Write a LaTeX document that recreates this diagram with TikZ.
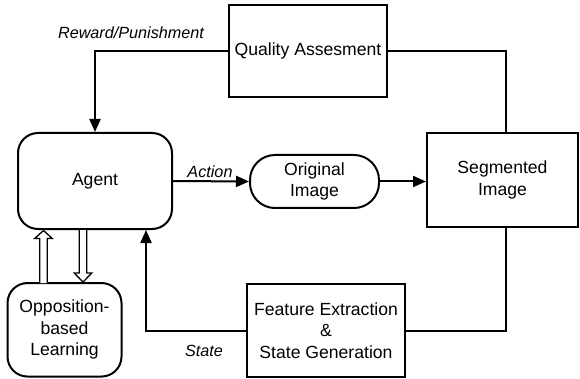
\documentclass[tikz,border=0pt]{standalone}
\usepackage{fontspec}
\setmainfont{Liberation Sans}
\usetikzlibrary{arrows.meta,calc}
\begin{document}
\begin{tikzpicture}[x=1pt,y=-1pt,
  box/.style={draw,line width=2pt,rectangle,align=center,inner sep=0pt,font=\fontsize{17.6}{21.5}\selectfont},
  rbox/.style={box,rounded corners=20pt},
  pill/.style={box,rounded corners=25pt},
  lab/.style={font=\fontsize{16.2}{18}\selectfont\itshape,inner sep=0pt},
  conn/.style={line width=2pt},
  arr/.style={conn,-{Triangle[length=13pt,width=11pt]}},
  hollow/.style={draw,line width=1.3pt,fill=white,line join=miter}
]
\useasboundingbox (0,0) rectangle (580,379);
\node[rbox,minimum width=154pt,minimum height=96pt] (agent) at (95,181) {Agent};
\node[box,minimum width=158pt,minimum height=92pt] (qa) at (308,51) {Quality Assesment};
\node[pill,minimum width=129pt,minimum height=53pt] (orig) at (314.5,181.5) {Original\\Image};
\node[box,minimum width=151pt,minimum height=94pt] (seg) at (502.5,180) {Segmented\\Image};
\node[box,minimum width=158pt,minimum height=93pt] (feat) at (326,330.5) {Feature Extraction\\\&\\State Generation};
\node[rbox,minimum width=114pt,minimum height=93.5pt] (obl) at (64.5,329.8) {Opposition-\\based\\Learning};

\draw[arr] (qa.west) -| (agent.north);
\node[lab] (lreward) at (131,33) {Reward/Punishment};
\draw[arr] (agent.east) -- (orig.west);
\node[lab] (laction) at (210,172) {Action};
\draw[arr] (orig.east) -- (orig.east -| seg.west);
\draw[conn] (qa.east) -| ([xshift=3.5pt]seg.north);
\draw[conn] ([xshift=3.5pt]seg.south) |- (feat.east);
\draw[arr] (feat.west) -| ([xshift=51pt]agent.south);
\node[lab] (lstate) at (204,351) {State};

% hollow arrows between Agent and Opposition-based Learning
\coordinate (upb) at (43.5,283);
\coordinate (upt) at (43.5,230.5);
\draw[hollow] ($(upb)+(-3.7,0)$) -- ($(upt)+(-3.7,8)$) -- ($(upt)+(-8.8,8)$) -- (upt) -- ($(upt)+(8.8,8)$) -- ($(upt)+(3.7,8)$) -- ($(upb)+(3.7,0)$);
\coordinate (dnt) at (83,282);
\coordinate (dnb) at (83,230);
\draw[hollow] ($(dnb)+(-3.7,0)$) -- ($(dnt)+(-3.7,-9)$) -- ($(dnt)+(-8.8,-9)$) -- (dnt) -- ($(dnt)+(8.8,-9)$) -- ($(dnt)+(3.7,-9)$) -- ($(dnb)+(3.7,0)$);
\end{tikzpicture}
\end{document}
